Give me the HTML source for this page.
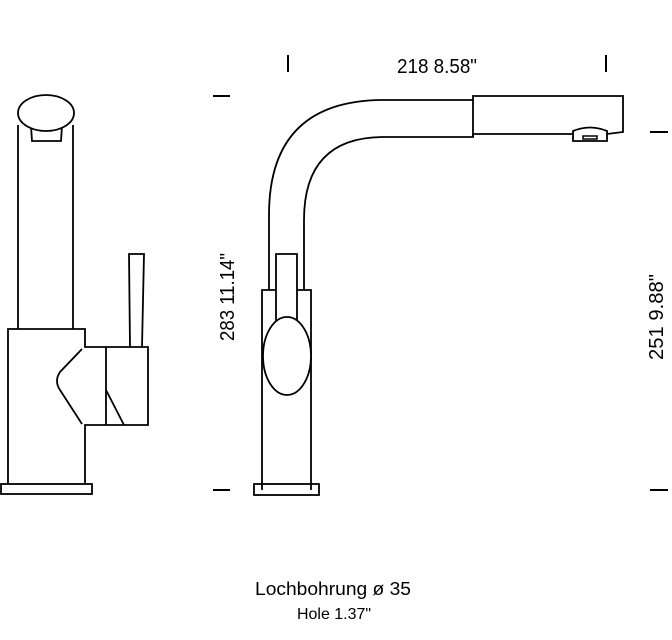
<!DOCTYPE html>
<html><head><style>html,body{margin:0;padding:0;background:#fff}svg{display:block}</style></head>
<body>
<svg width="672" height="640" viewBox="0 0 672 640" xmlns="http://www.w3.org/2000/svg" font-family="Liberation Sans, sans-serif">
<g fill="none" stroke="#000" stroke-width="1.8">
<path d="M18,125 V329 M73,125 V329"/>
<path d="M31,126 L32,141 H61 L62,126"/>
<ellipse cx="46" cy="113" rx="28" ry="18" fill="#fff"/>
<path d="M8,484 V329 H85 V347 H148 V425 H85 V484"/>
<path d="M106,347 V425"/>
<path d="M82,349 L60,372 Q54,381 60,390 L82,424"/>
<path d="M106,390 L124,425"/>
<path d="M130,347 L129,254 H144 L142,347"/>
<rect x="1" y="484" width="91" height="10"/>
<path d="M269,290 V215 Q269,100 384,100 H473 V96 H623 V132 L607,134"/>
<path d="M304,290 V220 Q304,137 384,137 H473 V134 H573"/>
<path d="M473,100 V137"/>
<path d="M573,141 V131 Q590,124 607,131 V141 Z"/>
<rect x="583" y="136" width="14" height="3" stroke-width="1.5"/>
<path d="M262,490 V290 H276 M297,290 H311 V490"/>
<path d="M276,322 V254 H297 V322"/>
<ellipse cx="287" cy="356" rx="24" ry="39" fill="#fff"/>
<rect x="254" y="484" width="65" height="11"/>
<path stroke-width="2" d="M288,55 V72 M606,55 V72 M213,96 H230 M213,490 H230 M650,132 H668 M650,490 H668"/>
</g>
<text x="437" y="73" font-size="20" text-anchor="middle" textLength="80" lengthAdjust="spacingAndGlyphs">218  8.58"</text>
<text transform="translate(234,297) rotate(-90)" font-size="20" text-anchor="middle" textLength="88" lengthAdjust="spacingAndGlyphs">283 11.14"</text>
<text transform="translate(663,317) rotate(-90)" font-size="20" text-anchor="middle" textLength="86" lengthAdjust="spacingAndGlyphs">251  9.88"</text>
<text x="255" y="595" font-size="18" textLength="156" lengthAdjust="spacingAndGlyphs">Lochbohrung ø 35</text>
<text x="297" y="619" font-size="16" textLength="74" lengthAdjust="spacingAndGlyphs">Hole 1.37"</text>
</svg>
</body></html>
